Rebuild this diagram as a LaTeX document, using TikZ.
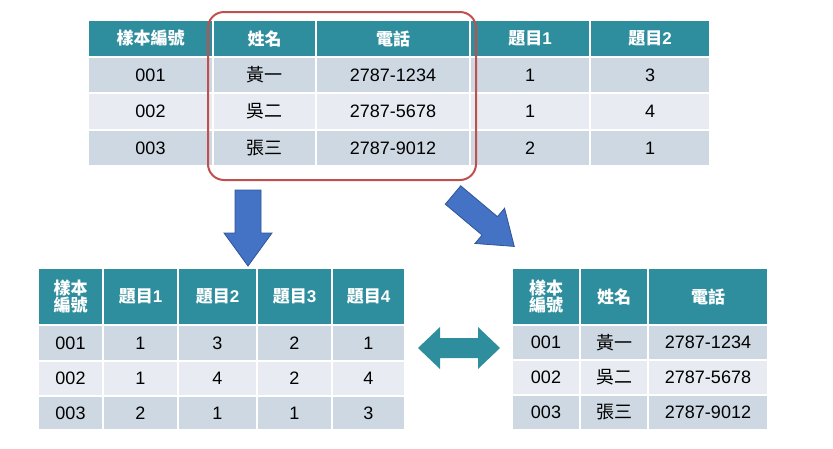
\documentclass[tikz,border=0pt]{standalone}
\usepackage{fontspec}
\setmainfont{Liberation Sans}
\newfontfamily\cjk{Noto Sans CJK TC}
\definecolor{hdr}{HTML}{2F8E9E}
\definecolor{rowA}{HTML}{CED8E2}
\definecolor{rowB}{HTML}{E8ECF2}
\definecolor{arrblue}{HTML}{4472C4}
\definecolor{arredge}{HTML}{2F5597}
\definecolor{redbox}{HTML}{C0504D}
\tikzset{
 cell/.style={draw=white,line width=1.5pt},
 htxt/.style={text=white,font=\bfseries\fontsize{17}{18}\selectfont},
 dtxt/.style={text=black,font=\fontsize{18}{20}\selectfont},
 bigarrow/.style={fill=arrblue,draw=arredge,line width=0.8pt},
}
\begin{document}
\begin{tikzpicture}[x=1pt,y=-1pt]
\useasboundingbox (0,0) rectangle (833,448);
% ---------- top table
\foreach \xa/\xb [count=\c] in {88/213,213/316,316/470,470/590,590/710}{
 \foreach \ya/\yb [count=\r from 0] in {20/57,57/93,93/130,130/166}{
  \ifnum\r=0 \fill[hdr] (\xa,\ya) rectangle (\xb,\yb);
  \else\ifnum\r=2 \fill[rowB] (\xa,\ya) rectangle (\xb,\yb);
  \else \fill[rowA] (\xa,\ya) rectangle (\xb,\yb);\fi\fi
  \draw[cell] (\xa,\ya) rectangle (\xb,\yb);
  \coordinate (t\c\r) at ({(\xa+\xb)/2},{(\ya+\yb)/2});
 }}
\node[htxt] (th1) at (t10) {\cjk 樣本編號};
\node[htxt] (th2) at (t20) {\cjk 姓名};
\node[htxt] (th3) at (t30) {\cjk 電話};
\node[htxt] (th4) at (t40) {\cjk 題目\normalfont\bfseries 1};
\node[htxt] (th5) at (t50) {\cjk 題目\normalfont\bfseries 2};
\foreach \r/\a/\b/\p/\q/\s in {1/001/黃一/2787-1234/1/3,2/002/吳二/2787-5678/1/4,3/003/張三/2787-9012/2/1}{
 \node[dtxt] (ta\r) at (t1\r) {\a};
 \node[dtxt] (tb\r) at (t2\r) {\cjk\b};
 \node[dtxt] (tc\r) at (t3\r) {\p};
 \node[dtxt] (td\r) at (t4\r) {\q};
 \node[dtxt] (te\r) at (t5\r) {\s};
}
\draw[redbox,line width=2pt,rounded corners=16pt] (208,12) rectangle (476,180);
% ---------- bottom left table
\foreach \xa/\xb [count=\c] in {38/103,103/178,178/257,257/332,332/405}{
 \foreach \ya/\yb [count=\r from 0] in {268/325,325/361,361/396,396/430}{
  \ifnum\r=0 \fill[hdr] (\xa,\ya) rectangle (\xb,\yb);
  \else\ifnum\r=2 \fill[rowB] (\xa,\ya) rectangle (\xb,\yb);
  \else \fill[rowA] (\xa,\ya) rectangle (\xb,\yb);\fi\fi
  \draw[cell] (\xa,\ya) rectangle (\xb,\yb);
  \coordinate (l\c\r) at ({(\xa+\xb)/2},{(\ya+\yb)/2});
 }}
\node[htxt,align=center] (lh1) at (l10) {\cjk 樣本\\[-1pt]\cjk 編號};
\node[htxt] (lh2) at (l20) {\cjk 題目\normalfont\bfseries 1};
\node[htxt] (lh3) at (l30) {\cjk 題目\normalfont\bfseries 2};
\node[htxt] (lh4) at (l40) {\cjk 題目\normalfont\bfseries 3};
\node[htxt] (lh5) at (l50) {\cjk 題目\normalfont\bfseries 4};
\foreach \r/\a/\b/\p/\q/\s in {1/001/1/3/2/1,2/002/1/4/2/4,3/003/2/1/1/3}{
 \node[dtxt] (la\r) at (l1\r) {\a};
 \node[dtxt] (lb\r) at (l2\r) {\b};
 \node[dtxt] (lc\r) at (l3\r) {\p};
 \node[dtxt] (ld\r) at (l4\r) {\q};
 \node[dtxt] (le\r) at (l5\r) {\s};
}
% ---------- bottom right table
\foreach \xa/\xb [count=\c] in {512/580,580/648,648/768}{
 \foreach \ya/\yb [count=\r from 0] in {268/325,325/360,360/395,395/430}{
  \ifnum\r=0 \fill[hdr] (\xa,\ya) rectangle (\xb,\yb);
  \else\ifnum\r=2 \fill[rowB] (\xa,\ya) rectangle (\xb,\yb);
  \else \fill[rowA] (\xa,\ya) rectangle (\xb,\yb);\fi\fi
  \draw[cell] (\xa,\ya) rectangle (\xb,\yb);
  \coordinate (r\c\r) at ({(\xa+\xb)/2},{(\ya+\yb)/2});
 }}
\node[htxt,align=center] (rh1) at (r10) {\cjk 樣本\\[-1pt]\cjk 編號};
\node[htxt] (rh2) at (r20) {\cjk 姓名};
\node[htxt] (rh3) at (r30) {\cjk 電話};
\foreach \r/\a/\b/\p in {1/001/黃一/2787-1234,2/002/吳二/2787-5678,3/003/張三/2787-9012}{
 \node[dtxt] (ra\r) at (r1\r) {\a};
 \node[dtxt] (rb\r) at (r2\r) {\cjk\b};
 \node[dtxt] (rc\r) at (r3\r) {\p};
}
% ---------- arrows
\draw[bigarrow] (235,190) -- (261,190) -- (261,233) -- (272,233) -- (248,266) -- (224,233) -- (235,233) -- cycle;
\begin{scope}[shift={(453,195)},rotate=-40]
\draw[bigarrow] (0,-12) -- (48,-12) -- (48,-23) -- (80,0) -- (48,23) -- (48,12) -- (0,12) -- cycle;
\end{scope}
\fill[hdr] (418,348) -- (440,327) -- (440,338) -- (478,338) -- (478,327) -- (500,348) -- (478,369) -- (478,358) -- (440,358) -- (440,369) -- cycle;
\end{tikzpicture}
\end{document}
